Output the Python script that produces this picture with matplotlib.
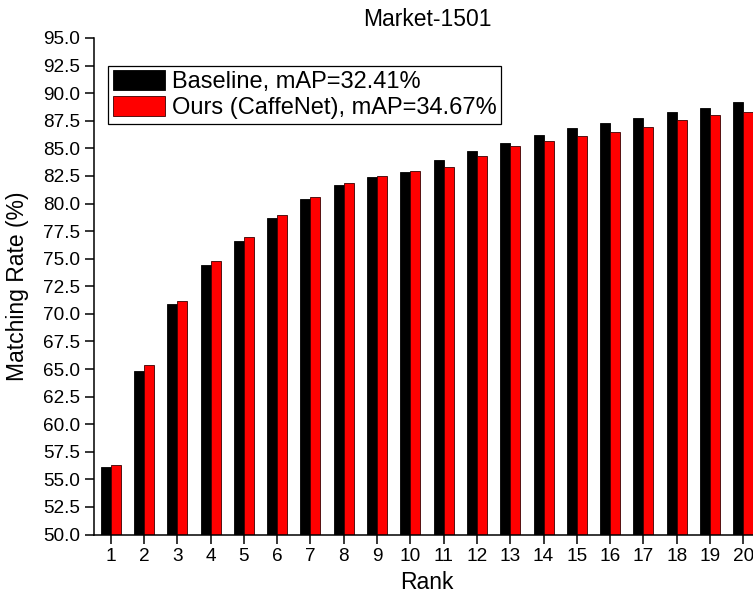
import matplotlib
matplotlib.use("Agg")
import matplotlib.pyplot as plt
import numpy as np

plt.rcParams['font.family'] = ['Liberation Sans', 'DejaVu Sans']

ranks = list(range(1, 21))
baseline = [56.09, 64.81, 70.88, 74.41, 76.58, 78.73, 80.42, 81.69, 82.38, 82.84,
            83.95, 84.74, 85.46, 86.19, 86.85, 87.34, 87.73, 88.33, 88.63, 89.18]
ours = [56.32, 65.38, 71.20, 74.75, 76.92, 78.97, 80.60, 81.87, 82.47, 82.93,
        83.35, 84.26, 85.19, 85.67, 86.13, 86.52, 86.97, 87.61, 88.03, 88.30]
labels = ["Baseline, mAP=32.41%", "Ours (CaffeNet), mAP=34.67%"]
yticks = np.arange(50, 95.01, 2.5)

fig = plt.figure(figsize=(7.53, 5.97), dpi=100)
# axes runs off the right edge of the canvas on purpose
ax = fig.add_axes([94/753, 62.5/597, 666/753, 496.5/597])

x = np.array(ranks)
w = 0.3
ax.bar(x - w/2, baseline, w, color='black', edgecolor='black', linewidth=0.6,
       label=labels[0])
ax.bar(x + w/2, ours, w, color='#ff0000', edgecolor='#3a0000', linewidth=0.6,
       label=labels[1])

ax.set_xlim(0.5, 20.5)
ax.set_ylim(50, 95)
ax.set_xticks(ranks)
ax.set_yticks(yticks)
ax.set_yticklabels(["%.1f" % v for v in yticks])
ax.spines['top'].set_visible(False)
ax.spines['right'].set_visible(False)
ax.spines['left'].set_linewidth(1.1)
ax.spines['bottom'].set_linewidth(1.1)
ax.tick_params(direction='out', length=6.5, width=1.1, labelsize=13.7, pad=3.5)

ax.set_xlabel("Rank", fontsize=16.5, labelpad=4)
ax.set_ylabel("Matching Rate (%)", fontsize=16.5, labelpad=10)
ax.set_title("Market-1501", fontsize=16.5, pad=9)

leg = fig.legend(loc='upper left', bbox_to_anchor=(108/753, 1 - 65.7/597),
                 fontsize=17.0, frameon=True, fancybox=False, shadow=False,
                 borderpad=0.2, labelspacing=0.12, handlelength=2.2,
                 handleheight=0.9, handletextpad=0.3, borderaxespad=0)
leg.get_frame().set_edgecolor('black')
leg.get_frame().set_linewidth(0.9)
leg.get_frame().set_alpha(1)

plt.savefig("out.png", dpi=100)
